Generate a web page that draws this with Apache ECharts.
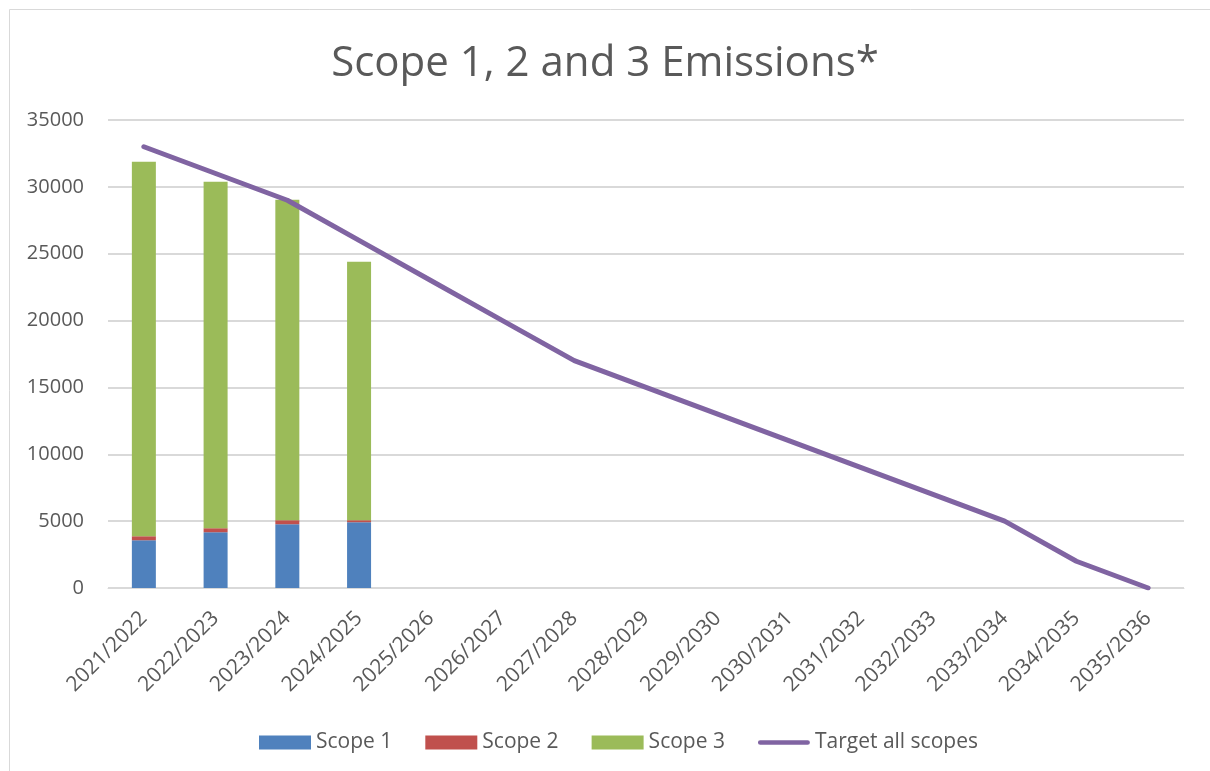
<!DOCTYPE html>
<html><head><meta charset="utf-8">
<script src="https://cdn.jsdelivr.net/npm/echarts@6/dist/echarts.min.js"></script>
<style>html,body{margin:0;padding:0;background:#fff}#c{width:1210px;height:771px}</style>
</head><body><div id="c"></div>
<script>
const categories = ['2021/2022','2022/2023','2023/2024','2024/2025','2025/2026','2026/2027','2027/2028','2028/2029','2029/2030','2030/2031','2031/2032','2032/2033','2033/2034','2034/2035','2035/2036'];
const scope1 = [3570, 4170, 4770, 4920];
const scope2 = [300, 300, 300, 150];
const scope3 = [28010, 25910, 23970, 19330];
const target = [33000, 31000, 29000, 26000, 23000, 20000, 17000, 15000, 13000, 11000, 9000, 7000, 5000, 2000, 0];
const yTicks = [0, 5000, 10000, 15000, 20000, 25000, 30000, 35000];

const FONT = 'Open Sans';
const TXT = '#595959';
const chart = echarts.init(document.getElementById('c'));
chart.setOption({
  animation: false,
  backgroundColor: '#fff',
  textStyle: { fontFamily: FONT },
  graphic: [{ type: 'rect', shape: { x: 9.5, y: 9.5, width: 1230, height: 800 }, style: { fill: 'none', stroke: '#D9D9D9', lineWidth: 1 }, silent: true }],
  title: { text: 'Scope 1, 2 and 3 Emissions*', left: 'center', top: 38,
    textStyle: { fontFamily: FONT, fontSize: 42, fontWeight: 'normal', color: TXT } },
  legend: { top: 727, left: 254, itemWidth: 52, itemHeight: 14, itemGap: 33,
    textStyle: { fontFamily: FONT, fontSize: 21, color: TXT },
    data: [
      { name: 'Scope 1', icon: 'rect' },
      { name: 'Scope 2', icon: 'rect' },
      { name: 'Scope 3', icon: 'rect' },
      { name: 'Target all scopes', icon: 'path://M2.5,0 L53.5,0 A2.5,2.5 0 0 1 53.5,5 L2.5,5 A2.5,2.5 0 0 1 2.5,0 Z', itemStyle: { color: '#8064A2' } }
    ] },
  grid: { left: 108, right: 26, top: 120, bottom: 183 },
  xAxis: { type: 'category', data: categories,
    axisLine: { show: true, lineStyle: { color: '#D9D9D9', width: 1 } },
    axisTick: { show: false },
    axisLabel: { rotate: 45, fontFamily: FONT, fontSize: 21, color: TXT, margin: 27, interval: 0 } },
  yAxis: { type: 'value', min: 0, max: 35000, interval: 5000,
    axisLine: { show: false }, axisTick: { show: false },
    splitLine: { lineStyle: { color: '#D9D9D9', width: 2 } },
    axisLabel: { fontFamily: FONT, fontSize: 20, color: TXT, margin: 24,
      formatter: v => yTicks.includes(v) ? String(v) : '' } },
  series: [
    { name: 'Scope 1', type: 'bar', stack: 's', barWidth: 24, data: scope1, itemStyle: { color: '#4F81BD' } },
    { name: 'Scope 2', type: 'bar', stack: 's', barWidth: 24, data: scope2, itemStyle: { color: '#C0504D' } },
    { name: 'Scope 3', type: 'bar', stack: 's', barWidth: 24, data: scope3, itemStyle: { color: '#9BBB59' } },
    { name: 'Target all scopes', type: 'line', data: target, symbol: 'none',
      lineStyle: { color: '#8064A2', width: 5, cap: 'round', join: 'round' }, itemStyle: { color: '#8064A2' } }
  ]
});
</script></body></html>
